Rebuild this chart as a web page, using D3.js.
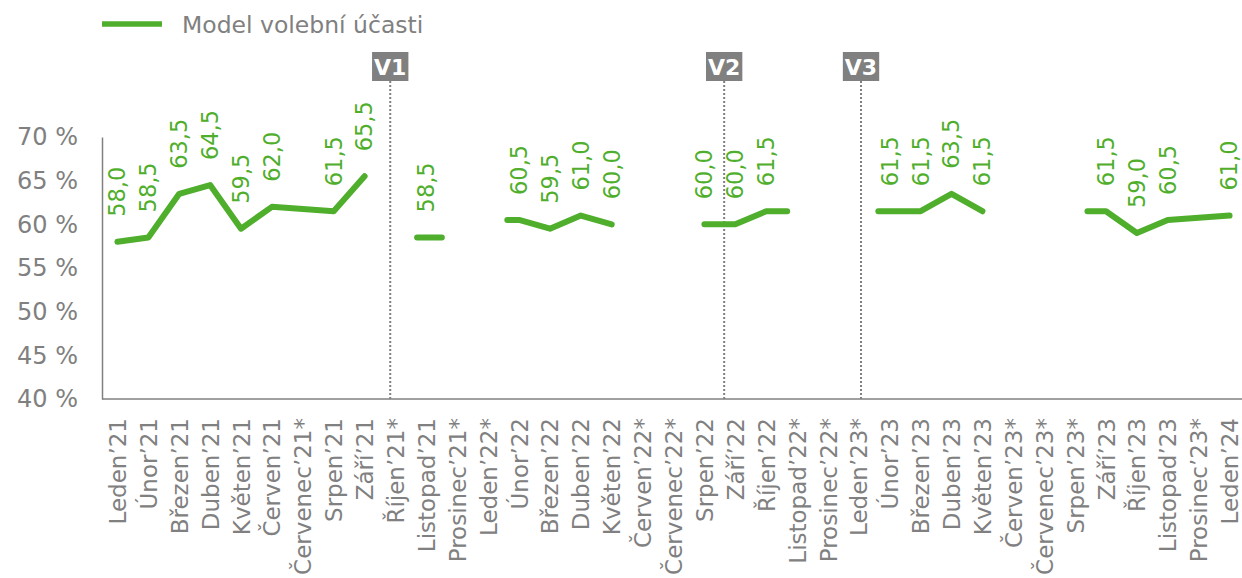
<!DOCTYPE html>
<html lang="cs">
<head>
<meta charset="utf-8">
<script src="https://cdnjs.cloudflare.com/ajax/libs/d3/7.8.5/d3.min.js"></script>
<title>Model volební účasti</title>
<style>
  body { margin: 0; background: #fff; }
  svg text { font-family: "DejaVu Sans", Verdana, sans-serif; }
</style>
</head>
<body>
<svg id="chart" width="1242" height="578"></svg>
<script>
// months shown on the category axis (* = no survey)
var months = ["Leden’21", "Únor’21", "Březen’21", "Duben’21", "Květen’21", "Červen’21", "Červenec’21*", "Srpen’21", "Září’21",
  "Říjen’21*", "Listopad’21", "Prosinec’21*", "Leden’22*", "Únor’22", "Březen’22", "Duben’22", "Květen’22",
  "Červen’22*", "Červenec’22*", "Srpen’22", "Září’22", "Říjen’22", "Listopad’22*", "Prosinec’22*", "Leden’23*",
  "Únor’23", "Březen’23", "Duben’23", "Květen’23", "Červen’23*", "Červenec’23*", "Srpen’23*", "Září’23",
  "Říjen’23", "Listopad’23", "Prosinec’23*", "Leden’24"];

// model of turnout in %, null = gap
var turnout = [58.0, 58.5, 63.5, 64.5, 59.5, 62.0, null, 61.5, 65.5,
  null, 58.5, null, null, 60.5, 59.5, 61.0, 60.0,
  null, null, 60.0, 60.0, 61.5, null, null, null,
  61.5, 61.5, 63.5, 61.5, null, null, null, 61.5,
  59.0, 60.5, null, 61.0];

// gaps the original line runs across
var bridged = ["Červenec’21*", "Prosinec’23*"];

// short flat runs at the ends of some pieces [month, from, to] in steps
var flatEnds = [["Listopad’21", -0.3, 0.5], ["Únor’22", -0.38, 0], ["Říjen’22", 0, 0.68],
  ["Únor’23", -0.37, 0], ["Září’23", -0.6, 0]];

// election markers
var elections = ["V1", "V2", "V3"];
var electionMonth = ["Říjen’21*", "Září’22", "Leden’23*"];
var electionShift = [-0.17, -0.36, 0.07];

var yTicks = [40, 45, 50, 55, 60, 65, 70];
var seriesName = "Model volební účasti";

var green = "#4fae2c", grey = "#808080";
var svg = d3.select("#chart");
var W = 1242;

var x = d3.scalePoint().domain(months).range([102, 1245]).padding(0.5);
var y = d3.scaleLinear().domain([40, 70]).range([399, 137]);
var step = x.step();

// y axis
var yAxis = svg.append("g")
  .attr("transform", "translate(102,0)")
  .call(d3.axisLeft(y).tickValues(yTicks).tickFormat(d => d + " %").tickSize(0).tickPadding(24));
yAxis.select(".domain").attr("stroke", grey).attr("stroke-width", 1.5);
yAxis.selectAll("text").attr("fill", grey).style("font-size", "24px");

// x axis
var xAxis = svg.append("g")
  .attr("transform", "translate(0,399)")
  .call(d3.axisBottom(x).tickSize(0).tickSizeOuter(0));
xAxis.select(".domain").attr("d", "M102,0H" + W).attr("stroke", grey).attr("stroke-width", 1.5);
xAxis.selectAll("text")
  .attr("fill", grey).style("font-size", "23px")
  .attr("text-anchor", "end")
  .attr("transform", "translate(0,19) rotate(-90)")
  .attr("x", 0).attr("y", 0).attr("dy", "0.35em");

// election markers
elections.forEach(function(v, i) {
  var ex = x(electionMonth[i]) + electionShift[i] * step;
  svg.append("line")
    .attr("x1", ex).attr("x2", ex).attr("y1", 81).attr("y2", 399)
    .attr("stroke", grey).attr("stroke-width", 2).attr("stroke-dasharray", "2,2");
  var g = svg.append("g");
  var t = g.append("text")
    .attr("x", ex).attr("y", 75)
    .attr("text-anchor", "middle")
    .attr("fill", "#fff").style("font-size", "22px").style("font-weight", "bold")
    .text(v);
  var bb = t.node().getBBox();
  g.insert("rect", "text")
    .attr("x", ex - bb.width / 2 - 2).attr("y", 52)
    .attr("width", bb.width + 4).attr("height", 29)
    .attr("fill", grey);
});

// build line pieces
var pts = months.map((m, i) => ({ m: m, v: turnout[i], px: x(m) }));
var pieces = [], cur = [];
pts.forEach(function(p) {
  if (p.v != null) { cur.push(p); return; }
  if (bridged.indexOf(p.m) >= 0) return;
  if (cur.length) pieces.push(cur);
  cur = [];
});
if (cur.length) pieces.push(cur);

pieces.forEach(function(pc) {
  var line = pc.map(p => [p.px, y(p.v)]);
  flatEnds.forEach(function(f) {
    if (pc[0].m == f[0] && f[1] < 0) line.unshift([x(f[0]) + f[1] * step, y(pc[0].v)]);
    var last = pc[pc.length - 1];
    if (last.m == f[0] && f[2] > 0) line.push([x(f[0]) + f[2] * step, y(last.v)]);
  });
  svg.append("path")
    .attr("d", d3.line()(line))
    .attr("fill", "none").attr("stroke", green).attr("stroke-width", 6)
    .attr("stroke-linejoin", "round").attr("stroke-linecap", "round");
});

// data labels
svg.append("g").selectAll("text")
  .data(pts.filter(p => p.v != null))
  .enter().append("text")
  .attr("transform", d => "translate(" + d.px + "," + (y(d.v) - 25) + ") rotate(-90)")
  .attr("dy", "0.35em")
  .attr("fill", green).style("font-size", "22.5px")
  .text(d => d3.format(".1f")(d.v).replace(".", ","));

// legend
svg.append("line")
  .attr("x1", 102).attr("x2", 162).attr("y1", 24).attr("y2", 24)
  .attr("stroke", green).attr("stroke-width", 5.5);
svg.append("text")
  .attr("x", 182).attr("y", 33)
  .attr("fill", grey).style("font-size", "23.5px")
  .text(seriesName);
</script>
</body>
</html>
